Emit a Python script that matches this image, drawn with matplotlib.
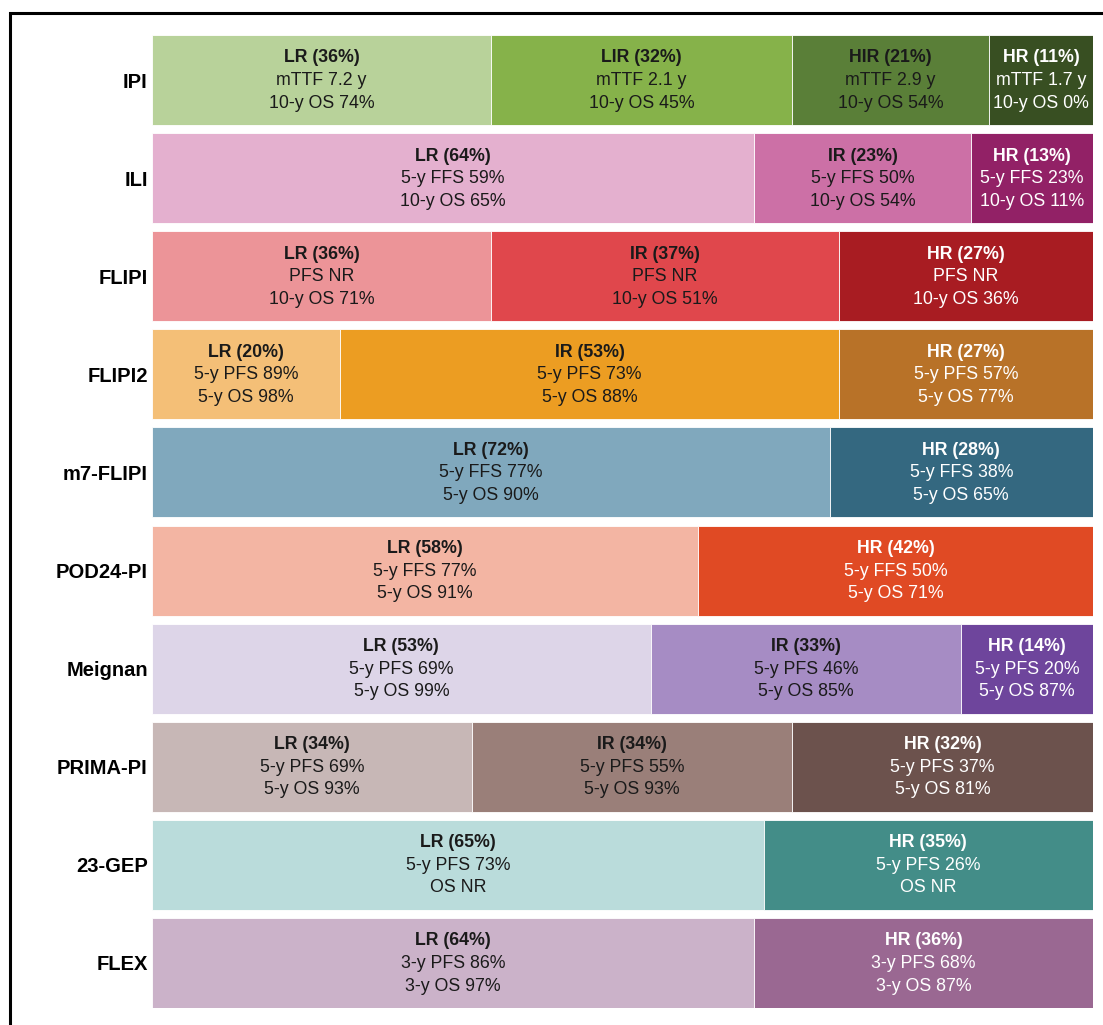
import matplotlib.pyplot as plt
from matplotlib.patches import Rectangle

plt.rcParams['font.family'] = ['Liberation Sans', 'DejaVu Sans']

# indices et groupes de risque
indices = ["IPI", "ILI", "FLIPI", "FLIPI2", "m7-FLIPI", "POD24-PI",
           "Meignan", "PRIMA-PI", "23-GEP", "FLEX"]

groups = [
    ["LR", "LIR", "HIR", "HR"],
    ["LR", "IR", "HR"],
    ["LR", "IR", "HR"],
    ["LR", "IR", "HR"],
    ["LR", "HR"],
    ["LR", "HR"],
    ["LR", "IR", "HR"],
    ["LR", "IR", "HR"],
    ["LR", "HR"],
    ["LR", "HR"],
]

shares = [
    [36, 32, 21, 11],
    [64, 23, 13],
    [36, 37, 27],
    [20, 53, 27],
    [72, 28],
    [58, 42],
    [53, 33, 14],
    [34, 34, 32],
    [65, 35],
    [64, 36],
]

line1 = [
    ["mTTF 7.2 y", "mTTF 2.1 y", "mTTF 2.9 y", "mTTF 1.7 y"],
    ["5-y FFS 59%", "5-y FFS 50%", "5-y FFS 23%"],
    ["PFS NR", "PFS NR", "PFS NR"],
    ["5-y PFS 89%", "5-y PFS 73%", "5-y PFS 57%"],
    ["5-y FFS 77%", "5-y FFS 38%"],
    ["5-y FFS 77%", "5-y FFS 50%"],
    ["5-y PFS 69%", "5-y PFS 46%", "5-y PFS 20%"],
    ["5-y PFS 69%", "5-y PFS 55%", "5-y PFS 37%"],
    ["5-y PFS 73%", "5-y PFS 26%"],
    ["3-y PFS 86%", "3-y PFS 68%"],
]

line2 = [
    ["10-y OS 74%", "10-y OS 45%", "10-y OS 54%", "10-y OS 0%"],
    ["10-y OS 65%", "10-y OS 54%", "10-y OS 11%"],
    ["10-y OS 71%", "10-y OS 51%", "10-y OS 36%"],
    ["5-y OS 98%", "5-y OS 88%", "5-y OS 77%"],
    ["5-y OS 90%", "5-y OS 65%"],
    ["5-y OS 91%", "5-y OS 71%"],
    ["5-y OS 99%", "5-y OS 85%", "5-y OS 87%"],
    ["5-y OS 93%", "5-y OS 93%", "5-y OS 81%"],
    ["OS NR", "OS NR"],
    ["3-y OS 97%", "3-y OS 87%"],
]

colors = [
    ["#b8d29a", "#86b24a", "#5a7f38", "#384f22"],
    ["#e4b0cf", "#cc70a6", "#922166"],
    ["#ec9498", "#e0474c", "#a81c22"],
    ["#f4bf77", "#ec9d22", "#b87228"],
    ["#80a8bd", "#346880"],
    ["#f3b5a3", "#e04a24"],
    ["#ddd5e8", "#a68cc4", "#6e459c"],
    ["#c7b7b6", "#9a7f79", "#6c524d"],
    ["#badcdb", "#438d88"],
    ["#cbb2c9", "#9a6892"],
]

W, H = 1103, 1025
fig = plt.figure(figsize=(W / 100, H / 100), dpi=100)
ax = fig.add_axes([152 / W, 1 - 1008 / H, (1093 - 152) / W, (1008 - 35) / H])

n = len(indices)
bar_h = 0.918
fs = 12.8
for i in range(n):
    left = 0
    for j, s in enumerate(shares[i]):
        ax.barh(i, s, left=left, height=bar_h, color=colors[i][j],
                edgecolor="white", linewidth=0.6)
        cx = left + s / 2
        tc = "white" if groups[i][j] == "HR" else "#1a1a1a"
        ax.text(cx, i - 0.225, f"{groups[i][j]} ({s}%)", ha="center", va="center",
                fontsize=fs, fontweight="bold", color=tc)
        ax.text(cx, i + 0.005, line1[i][j], ha="center", va="center", fontsize=fs, color=tc)
        ax.text(cx, i + 0.235, line2[i][j], ha="center", va="center", fontsize=fs, color=tc)
        left += s

ax.set_xlim(0, 100)
ax.set_ylim(n - 1 + bar_h / 2, -bar_h / 2)
ax.set_yticks(range(n))
ax.set_yticklabels(indices, fontsize=14.5, fontweight="bold")
ax.tick_params(axis="y", length=0, pad=3)
ax.set_xticks([])
for sp in ax.spines.values():
    sp.set_visible(False)

# cadre noir (coupé à droite et en bas)
fig.patches.append(Rectangle((10 / W, -0.1), 1.5, 1 - 13 / H + 0.1,
                             transform=fig.transFigure, fill=False,
                             edgecolor="black", linewidth=2.2))

fig.savefig("out.png", dpi=100)
